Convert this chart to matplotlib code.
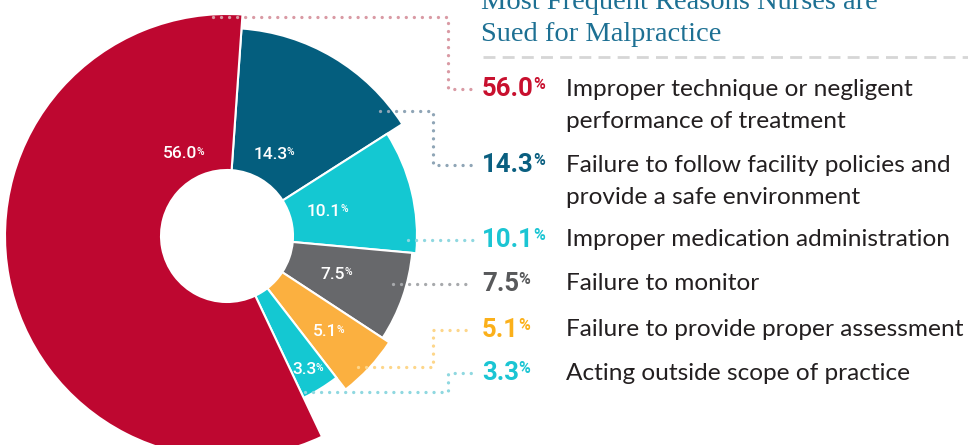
import numpy as np
import matplotlib.pyplot as plt

# data (legend order)
pct = [56.0, 14.3, 10.1, 7.5, 5.1, 3.3]
pct_labels = ['56.0', '14.3', '10.1', '7.5', '5.1', '3.3']
reasons = ['Improper technique or negligent\nperformance of treatment',
           'Failure to follow facility policies and\nprovide a safe environment',
           'Improper medication administration',
           'Failure to monitor',
           'Failure to provide proper assessment',
           'Acting outside scope of practice']
title_lines = ['Most Frequent Reasons Nurses are', 'Sued for Malpractice']

# styles
slice_colors = ['#be0730', '#045e7e', '#14c8d2', '#67686b', '#fbb040', '#14c8d2']
text_colors = ['#c8102e', '#0a5f80', '#1bc5d3', '#58595b', '#fbb01a', '#1bc5d3']
lead_colors = ['#d99aa4', '#8fa5b6', '#8fd8e0', '#a7a9ac', '#fdd68a', '#8fd8e0']
radii = [222, 208, 190, 186, 194, 179]
label_r = [None, 95, 105, 117, 141, 157]

W, H = 968, 445
cx, cy = 227, 236
hole = 66

def Y(y):
    return H - y

fig = plt.figure(figsize=(9.68, 4.45), dpi=100)
ax = fig.add_axes([0, 0, 1, 1])

# pie starts at top and goes clockwise: 14.3, 10.1, ..., 3.3, then 56.0
order = [1, 2, 3, 4, 5, 0]
wedges, _ = ax.pie([pct[i] for i in order], colors=[slice_colors[i] for i in order],
                   startangle=86, counterclock=False, center=(cx, Y(cy)), radius=1,
                   wedgeprops=dict(edgecolor='white', linewidth=1.5))
for w, i in zip(wedges, order):
    w.set_radius(radii[i])
    w.set_width(radii[i] - hole)

ax.set_xlim(0, W)
ax.set_ylim(0, H)
ax.set_aspect('auto')
ax.axis('off')


def pct_text(x, y, s, color, size, ha, weight, family, psize, dx=0):
    t = ax.text(x, y, s, color=color, fontsize=size, ha=ha, va='center',
                fontweight=weight, family=family)
    ax.annotate('%', xy=(1, 0.98), xycoords=t, xytext=(dx, 0), textcoords='offset points',
                ha='left', va='top', color=color, fontsize=psize, fontweight=weight,
                family=family)
    return t


# labels in slices
for w, i in zip(wedges, order):
    if i == 0:
        x, y = 180, Y(154)
    else:
        th = np.radians((w.theta1 + w.theta2) / 2)
        x = cx + label_r[i] * np.cos(th) - 5
        y = Y(cy) + label_r[i] * np.sin(th)
    pct_text(x, y, pct_labels[i], 'white', 12.5, 'center', 'medium', 'Roboto', 7.5, dx=-0.5)

# title
for k, line in enumerate(title_lines):
    ax.text(481, Y(9 + 32 * k), line, fontsize=20.5, color='#1d7093',
            family='Liberation Serif', ha='left', va='baseline')
ax.plot([483, W], [Y(57), Y(57)], color='#d6d6d6', lw=2, linestyle=(0, (4.3, 2.6)))

# legend rows
row_y = [89, 165, 240, 284, 330, 373]
for i in range(len(pct)):
    pct_text(482, Y(row_y[i]), pct_labels[i], text_colors[i], 18.5, 'left', 'bold', 'Roboto', 11.5,
             dx=-0.3)
    for k, line in enumerate(reasons[i].split('\n')):
        ax.text(566, Y(row_y[i] + 32 * k), line, fontsize=17.6, color='#231f20',
                family='Lato', ha='left', va='center')

# leader lines (start point, elbow x)
lead_start = [(213, 17), (380, 111), (408, 240), (393, 284), (358, 367), (305, 392)]
lead_elbow = [448, 433, None, None, 433, 448]
for i in range(len(pct)):
    x0, y0 = lead_start[i]
    ye = row_y[i]
    if lead_elbow[i] is None:
        xs, ys = [x0, 473], [ye, ye]
    else:
        xs = [x0, lead_elbow[i], lead_elbow[i], 473]
        ys = [y0, y0, ye, ye]
    ax.plot(xs, [Y(v) for v in ys], color=lead_colors[i], lw=2.4,
            linestyle=(0, (0.01, 2.4)), dash_capstyle='round', solid_joinstyle='round')

fig.savefig('out.png', dpi=100)
